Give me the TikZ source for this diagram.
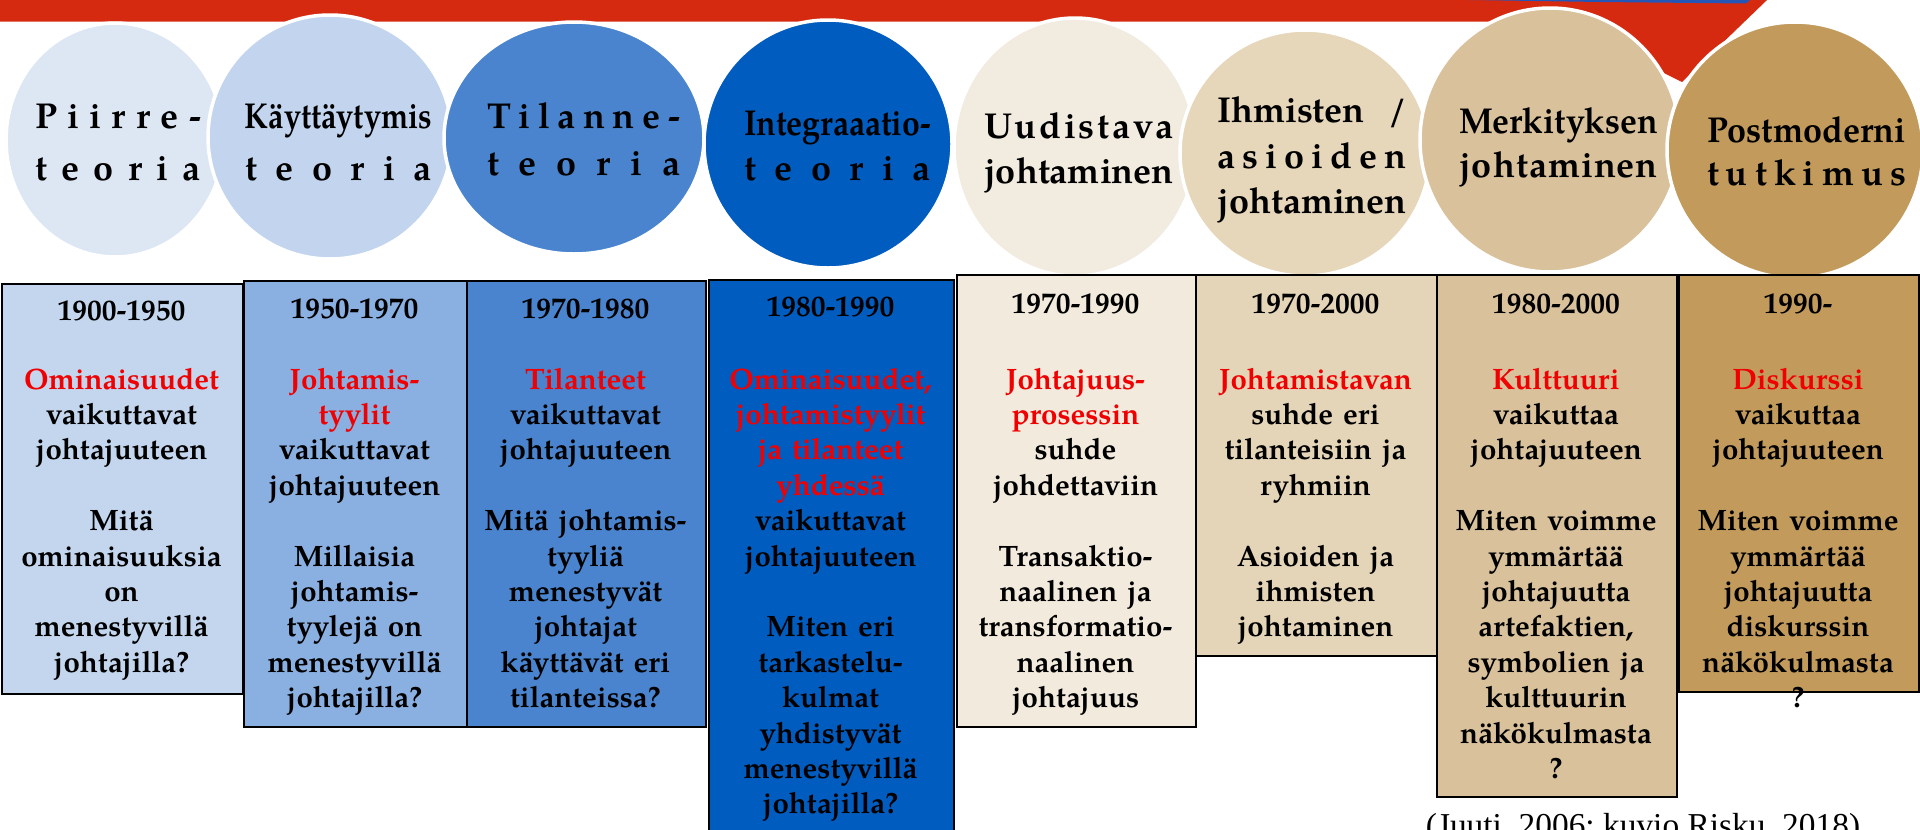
\documentclass[tikz,border=0pt]{standalone}
\usepackage{fontspec}
\usepackage{graphicx}
\usetikzlibrary{shapes.geometric}
\newfontfamily\pal{TeX Gyre Pagella}
\newfontfamily\capfont{Liberation Serif}
\definecolor{barred}{RGB}{214,42,16}
\definecolor{barblue}{HTML}{2456B8}
\definecolor{redtxt}{HTML}{F00000}
\definecolor{cA}{HTML}{DDE7F4}
\definecolor{cB}{HTML}{C3D5EE}
\definecolor{cC}{HTML}{4A84CE}
\definecolor{cD}{HTML}{005CBF}
\definecolor{cE}{HTML}{F2EBDF}
\definecolor{cF}{HTML}{E6D6BA}
\definecolor{cG}{HTML}{D9C19C}
\definecolor{cH}{HTML}{C29B5C}
\definecolor{bA}{HTML}{C3D6EE}
\definecolor{bB}{HTML}{8AAFE1}
\definecolor{bC}{HTML}{4A84CE}
\definecolor{bD}{HTML}{005CBF}
\definecolor{bE}{HTML}{F2EADC}
\definecolor{bF}{HTML}{E5D5B8}
\definecolor{bG}{HTML}{D9C19C}
\definecolor{bH}{HTML}{C29B5C}
\newsavebox\fitbox
\newcommand\fitw[2]{\sbox\fitbox{#2}\ifdim\wd\fitbox>#1\relax\resizebox{#1}{\height}{#2}\else\makebox[#1][s]{#2}\fi}
\def\lspEnd{}
\def\lsp#1{\lspA#1\lspEnd}
\def\lspA#1#2{#1\ifx#2\lspEnd\else\hfill\expandafter\lspA\expandafter#2\fi}
\newcommand\rd[1]{\textcolor{redtxt}{#1}}
\begin{document}
\begin{tikzpicture}[x=1pt,y=-1pt,
  circ/.style={ellipse, draw=white, line width=3.5pt, inner sep=0pt},
  ctext/.style={anchor=base, inner sep=0pt, font=\pal\bfseries\fontsize{36}{44}\selectfont},
  tbox/.style={draw=black, line width=2.2pt, anchor=north west, inner sep=0pt},
  yeartxt/.style={anchor=base, inner sep=0pt, font=\pal\bfseries\fontsize{29.5}{35.4}\selectfont},
  bodytxt/.style={anchor=north, inner sep=0pt, text width=232pt, align=center, font=\pal\bfseries\fontsize{29.5}{35.4}\selectfont},
  captxt/.style={anchor=base, inner sep=0pt, font=\capfont\fontsize{33.4}{40}\selectfont}
]
\useasboundingbox (0,0) rectangle (1920,830);
\clip (0,0) rectangle (1920,830);
\fill[white] (0,0) rectangle (1920,830);
% red arrow bar
\fill[barred] (0,0) -- (1767,0) -- (1682,82) -- (1560,21.7) -- (0,21.7) -- cycle;
\fill[barblue] (1470,0) -- (1750,0) -- (1746,3.5) -- (1600,2) -- cycle;
% circles
\node[circ, fill=cA, minimum width=218pt, minimum height=234pt] (c1) at (115,140) {};
\node[circ, fill=cB, minimum width=244pt, minimum height=244pt] (c2) at (330,137) {};
\node[circ, fill=cC, minimum width=260pt, minimum height=232pt] (c3) at (574,138) {};
\node[circ, fill=cD, minimum width=248pt, minimum height=248pt] (c4) at (828,144) {};
\node[circ, fill=cE, minimum width=242pt, minimum height=258pt] (c5) at (1075,147) {};
\node[circ, fill=cF, minimum width=250pt, minimum height=246pt] (c6) at (1305,153) {};
\node[circ, fill=cG, minimum width=260pt, minimum height=264pt] (c7) at (1550,140) {};
\node[circ, fill=cH, minimum width=256pt, minimum height=256pt] (c8) at (1795,150) {};
% circle texts
\node[ctext] (c1a) at (118,128.3) {\fitw{166pt}{\lsp{Piirre-}}};
\node[ctext] (c1b) at (118,180) {\fitw{166pt}{\lsp{teoria}}};
\node[ctext] (c2a) at (338.5,128) {\fitw{187pt}{\lsp{Käyttäytymis}}};
\node[ctext] (c2b) at (338.5,180) {\fitw{187pt}{\lsp{teoria}}};
\node[ctext] (c3a) at (583.5,128) {\fitw{193pt}{\lsp{Tilanne-}}};
\node[ctext] (c3b) at (583.5,175) {\fitw{193pt}{\lsp{teoria}}};
\node[ctext] (c4a) at (837.5,135) {\fitw{187pt}{\lsp{Integraaatio-}}};
\node[ctext] (c4b) at (837.5,180) {\fitw{187pt}{\lsp{teoria}}};
\node[ctext] (c5a) at (1079,138) {\fitw{190pt}{\lsp{Uudistava}}};
\node[ctext] (c5b) at (1079,183) {\fitw{190pt}{\lsp{johtaminen}}};
\node[ctext] (c6a) at (1312,122) {\fitw{190pt}{Ihmisten\hfill/}};
\node[ctext] (c6b) at (1312,168) {\fitw{190pt}{\lsp{asioiden}}};
\node[ctext] (c6c) at (1312,213) {\fitw{190pt}{\lsp{johtaminen}}};
\node[ctext] (c7a) at (1558.5,133) {\fitw{199pt}{\lsp{Merkityksen}}};
\node[ctext] (c7b) at (1558.5,177) {\fitw{199pt}{\lsp{johtaminen}}};
\node[ctext] (c8a) at (1806.5,142) {\fitw{199pt}{\lsp{Postmoderni}}};
\node[ctext] (c8b) at (1806.5,185) {\fitw{199pt}{\lsp{tutkimus}}};
% boxes
\node[tbox, fill=bA, minimum width=241pt, minimum height=410.5pt] (b1) at (1,282.5) {};
\node[tbox, fill=bB, minimum width=223pt, minimum height=446pt] (b2) at (243,280) {};
\node[tbox, fill=bC, minimum width=239pt, minimum height=446pt] (b3) at (466,280) {};
\node[tbox, fill=bD, minimum width=245pt, minimum height=570pt] (b4) at (708,279) {};
\node[tbox, fill=bE, minimum width=239pt, minimum height=452.4pt] (b5) at (956,273.6) {};
\node[tbox, fill=bF, minimum width=241pt, minimum height=381.4pt] (b6) at (1195,273.6) {};
\node[tbox, fill=bG, minimum width=240pt, minimum height=522.4pt] (b7) at (1436,273.6) {};
\node[tbox, fill=bH, minimum width=240pt, minimum height=417.1pt] (b8) at (1678,273.6) {};
% years
\node[yeartxt] (y1) at (121.5,320) {1900-1950};
\node[yeartxt] (y2) at (354.5,318) {1950-1970};
\node[yeartxt] (y3) at (585.5,318) {1970-1980};
\node[yeartxt] (y4) at (830.5,316) {1980-1990};
\node[yeartxt] (y5) at (1075.5,313) {1970-1990};
\node[yeartxt] (y6) at (1315.5,313) {1970-2000};
\node[yeartxt] (y7) at (1556,313) {1980-2000};
\node[yeartxt] (y8) at (1798,313) {1990-};
% body texts
\node[bodytxt] (t1) at (121.5,364.2) {\strut\rd{Ominaisuudet}\\ vaikuttavat\\ johtajuuteen\\[35.4pt] Mitä\\ ominaisuuksia\\ on\\ menestyvillä\\ johtajilla?};
\node[bodytxt] (t2) at (354.5,364.2) {\strut\rd{Johtamis-}\\ \rd{tyylit}\\ vaikuttavat\\ johtajuuteen\\[35.4pt] Millaisia\\ johtamis-\\ tyylejä on\\ menestyvillä\\ johtajilla?};
\node[bodytxt] (t3) at (585.5,364.2) {\strut\rd{Tilanteet}\\ vaikuttavat\\ johtajuuteen\\[35.4pt] Mitä johtamis-\\ tyyliä\\ menestyvät\\ johtajat\\ käyttävät eri\\ tilanteissa?};
\node[bodytxt] (t4) at (830.5,364.2) {\strut\rd{Ominaisuudet,}\\ \rd{johtamistyylit}\\ \rd{ja tilanteet}\\ \rd{yhdessä}\\ vaikuttavat\\ johtajuuteen\\[35.4pt] Miten eri\\ tarkastelu-\\ kulmat\\ yhdistyvät\\ menestyvillä\\ johtajilla?};
\node[bodytxt] (t5) at (1075.5,364.2) {\strut\rd{Johtajuus-}\\ \rd{prosessin}\\ suhde\\ johdettaviin\\[35.4pt] Transaktio-\\ naalinen ja\\ transformatio-\\ naalinen\\ johtajuus};
\node[bodytxt] (t6) at (1315.5,364.2) {\strut\rd{Johtamistavan}\\ suhde eri\\ tilanteisiin ja\\ ryhmiin\\[35.4pt] Asioiden ja\\ ihmisten\\ johtaminen};
\node[bodytxt] (t7) at (1556,364.2) {\strut\rd{Kulttuuri}\\ vaikuttaa\\ johtajuuteen\\[35.4pt] Miten voimme\\ ymmärtää\\ johtajuutta\\ artefaktien,\\ symbolien ja\\ kulttuurin\\ näkökulmasta\\ ?};
\node[bodytxt] (t8) at (1798,364.2) {\strut\rd{Diskurssi}\\ vaikuttaa\\ johtajuuteen\\[35.4pt] Miten voimme\\ ymmärtää\\ johtajuutta\\ diskurssin\\ näkökulmasta\\ ?};
% caption
\node[captxt] (cap) at (1643,836) {(Juuti, 2006; kuvio Risku, 2018)};
\end{tikzpicture}
\end{document}
